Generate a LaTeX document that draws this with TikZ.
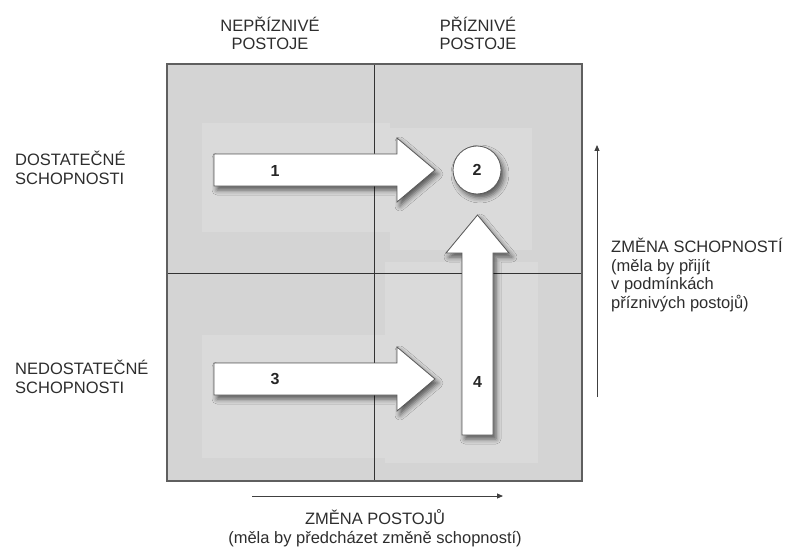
\documentclass[tikz,border=0pt]{standalone}
\usepackage{fontspec}
\setmainfont{Liberation Sans}
\usetikzlibrary{arrows.meta,shadows.blur}

\definecolor{quad}{RGB}{212,212,212}
\definecolor{quadlight}{RGB}{218,218,218}
\definecolor{framegray}{RGB}{95,95,95}
\definecolor{ink}{RGB}{45,45,45}

\begin{document}
\begin{tikzpicture}[x=1pt,y=-1pt,
  lbl/.style={font=\fontsize{16.5}{18.5}\selectfont, text=ink, inner sep=0pt},
  num/.style={font=\fontsize{16}{18}\selectfont\bfseries, text=black!85, inner sep=0pt},
  blockarrow/.style={fill=white, draw=black!65, line width=0.8pt,
    blur shadow={shadow xshift=3pt, shadow yshift=-4pt,
                 shadow blur radius=5pt, shadow opacity=60}},
  axisarrow/.style={draw=black!75, line width=0.9pt,
    -{Triangle[length=6pt,width=5pt]}}
]
\useasboundingbox (0,0) rectangle (791,548);

% corners of the 2x2 grid
\coordinate (nw) at (167,64);
\coordinate (se) at (582,481);
\coordinate (mt) at (374,64);
\coordinate (mb) at (374,481);
\coordinate (ml) at (167,273);
\coordinate (mr) at (582,273);

% quadrant background with softer lighter patches
\fill[quad] (nw) rectangle (se);
\fill[quadlight] (202,123) rectangle (390,232);
\fill[quadlight] (390,128) rectangle (532,250);
\fill[quadlight] (202,335) rectangle (390,458);
\fill[quadlight] (385,262) rectangle (538,463);

% dividers and frame
\draw[black!80, line width=0.7pt] (mt) -- (mb);
\draw[black!80, line width=0.7pt] (ml) -- (mr);
\draw[framegray, line width=1.3pt] (nw) rectangle (se);

% block arrows
\draw[blockarrow] (214,154) -- (397,154) -- (397,138) -- (435,170)
  -- (397,202) -- (397,186) -- (214,186) -- cycle;
\draw[blockarrow] (214,363) -- (397,363) -- (397,347) -- (435,379)
  -- (397,411) -- (397,395) -- (214,395) -- cycle;
\draw[blockarrow] (462,435) -- (462,253) -- (446,253) -- (477.5,215)
  -- (509,253) -- (493,253) -- (493,435) -- cycle;

% target state
\node[circle, minimum size=48pt, inner sep=0pt, blockarrow] (c2) at (477,170) {};
\node[num] (n2) at (c2) {2};

\node[num] (n1) at (275,171) {1};
\node[num] (n3) at (275,379) {3};
\node[num] (n4) at (477.5,382) {4};

% column headings (base anchor sits on the last line)
\node[lbl, align=center, anchor=base] (hleft) at (270,50) {NEPŘÍZNIVÉ\\POSTOJE};
\node[lbl, align=center, anchor=base] (hright) at (478,50) {PŘÍZNIVÉ\\POSTOJE};

% row headings
\node[lbl, align=left, anchor=base west] (rtop) at (15,184) {DOSTATEČNÉ\\SCHOPNOSTI};
\node[lbl, align=left, anchor=base west] (rbot) at (15,393) {NEDOSTATEČNÉ\\SCHOPNOSTI};

% axes
\coordinate (vx0) at (597,397);
\coordinate (vx1) at (597,145);
\draw[axisarrow] (vx0) -- (vx1);
\coordinate (hx0) at (252,496);
\coordinate (hx1) at (503,496);
\draw[axisarrow] (hx0) -- (hx1);

\node[lbl, align=left, anchor=base west] (vlab) at (611,308)
  {ZMĚNA SCHOPNOSTÍ\\(měla by přijít\\v podmínkách\\příznivých postojů)};
\node[lbl, align=center, anchor=base] (hlab) at (375,543)
  {ZMĚNA POSTOJŮ\\(měla by předcházet změně schopností)};
\end{tikzpicture}
\end{document}
